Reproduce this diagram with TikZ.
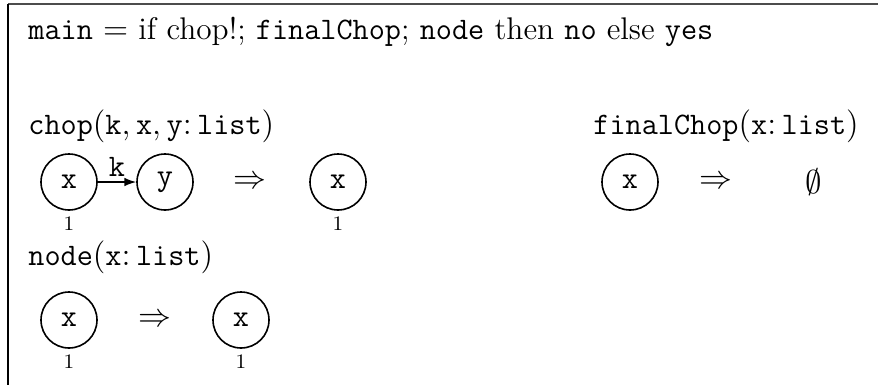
\documentclass[tikz,border=0pt]{standalone}
\usepackage{fontspec}
\usetikzlibrary{arrows.meta}

\newcommand\rulefont{\fontsize{13.7}{16}\selectfont}

\begin{document}
\begin{tikzpicture}[
  x=0.4375pt, y=-0.4375pt,
  every node/.style={inner sep=0pt},
  font=\rulefont,
  vtx/.style={draw=black, circle, minimum size=24.5pt, line width=0.7pt,
    font=\rulefont\ttfamily},
  hd/.style={anchor=base west},
  tag/.style={label={[font=\small, label distance=2.5pt]below:1}},
  edg/.style={-{Latex[length=1.8mm, width=1.3mm]}, line width=0.6pt, draw=black},
  frm/.style={line width=0.6pt},
]
\useasboundingbox (0,0) rectangle (878,385);

% ===== FRAME =====
\draw[frm, draw=black!70] (8,4) -- (878,4);
\draw[frm] (8,4) -- (8,385);

% ===== MAIN PROGRAM =====
\node[hd] (main) at (28,39) {\texttt{main} $=$ if chop!; \texttt{finalChop}; \texttt{node} then \texttt{no} else \texttt{yes}};

% ===== RULE: chop =====
\node[hd] (chop) at (28,134) {$\mathtt{chop}(\mathtt{k},\mathtt{x},\mathtt{y}\colon\mathtt{list})$};
\node[vtx, tag] (cx) at (69,182) {x};
\node[vtx] (cy) at (165,182) {y};
\draw[edg] (cx) -- node[above=2pt, font=\rulefont\ttfamily] (ck) {k} (cy);
\node (cimp) at (250,182) {$\Rightarrow$};
\node[vtx, tag] (cxr) at (338,182) {x};

% ===== RULE: finalChop =====
\node[hd] (final) at (593,134) {$\mathtt{finalChop}(\mathtt{x}\colon\mathtt{list})$};
\node[vtx] (fx) at (630,182) {x};
\node (fimp) at (716,182) {$\Rightarrow$};
\node (fnone) at (814,182) {$\emptyset$};

% ===== RULE: node =====
\node[hd] (node) at (28,265) {$\mathtt{node}(\mathtt{x}\colon\mathtt{list})$};
\node[vtx, tag] (nx) at (69,320) {x};
\node (nimp) at (155,320) {$\Rightarrow$};
\node[vtx, tag] (nxr) at (241,320) {x};

\end{tikzpicture}
\end{document}
